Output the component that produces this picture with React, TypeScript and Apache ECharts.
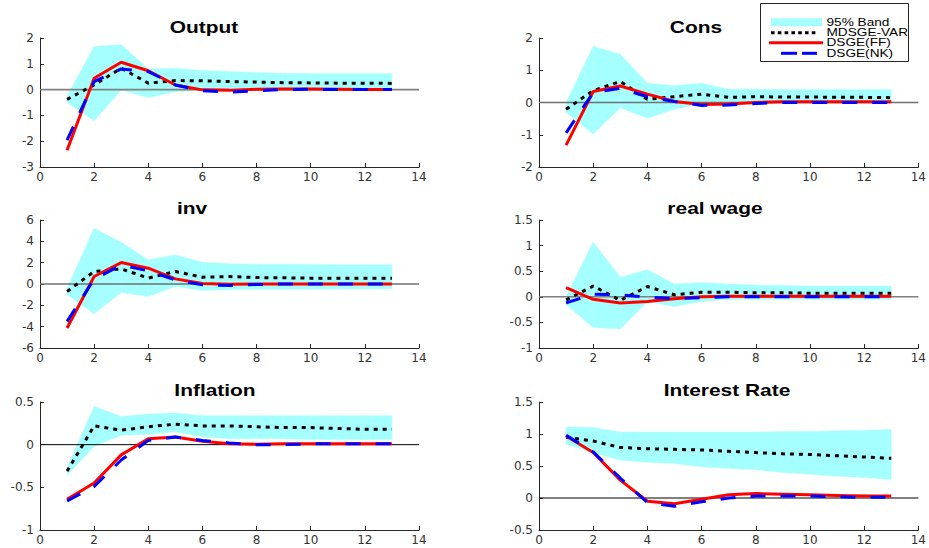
import React, { useEffect, useRef } from 'react';
import * as echarts from 'echarts';

// ---------- data ----------
const periods = [1, 2, 3, 4, 5, 6, 7, 8, 9, 10, 11, 12, 13];
const xTickMin = 0;
const xTickMax = 14;
const xTickStep = 2;

const titles = ['Output', 'Cons', 'inv', 'real wage', 'Inflation', 'Interest Rate'];
const legendNames = ['95% Band', 'MDSGE-VAR', 'DSGE(FF)', 'DSGE(NK)'];

const yMins = [-3, -2, -6, -1, -1, -0.5];
const yMaxs = [2, 2, 6, 1.5, 0.5, 1.5];
const ySteps = [1, 1, 2, 0.5, 0.5, 0.5];

const outputVar = [-0.38, 0.18, 0.83, 0.25, 0.35, 0.34, 0.31, 0.29, 0.27, 0.26, 0.25, 0.25, 0.24];
const outputFF = [-2.35, 0.44, 1.06, 0.73, 0.18, -0.01, -0.03, 0.01, 0.02, 0.02, 0.01, 0.0, 0.0];
const outputNK = [-1.96, 0.31, 0.8, 0.7, 0.18, -0.04, -0.1, -0.04, 0.0, 0.01, 0.0, 0.0, 0.0];
const outputLo = [-0.5, -1.21, -0.02, -0.31, -0.08, -0.02, 0.0, 0.0, -0.01, -0.01, -0.01, -0.01, -0.01];
const outputHi = [-0.25, 1.67, 1.75, 0.8, 0.83, 0.74, 0.7, 0.66, 0.63, 0.62, 0.62, 0.62, 0.62];

const consVar = [-0.21, 0.37, 0.65, 0.1, 0.18, 0.26, 0.16, 0.18, 0.17, 0.17, 0.16, 0.16, 0.15];
const consFF = [-1.32, 0.34, 0.51, 0.26, 0.03, -0.06, -0.05, 0.0, 0.02, 0.02, 0.02, 0.02, 0.02];
const consNK = [-0.94, 0.31, 0.44, 0.18, 0.03, -0.09, -0.08, -0.03, 0.0, 0.0, 0.0, 0.0, 0.0];
const consLo = [-0.3, -0.98, -0.16, -0.49, -0.21, -0.05, -0.03, -0.03, -0.03, -0.03, -0.03, -0.03, -0.03];
const consHi = [0.0, 1.74, 1.5, 0.6, 0.53, 0.6, 0.41, 0.41, 0.4, 0.4, 0.4, 0.4, 0.4];

const invVar = [-0.7, 1.17, 1.42, 0.55, 1.17, 0.64, 0.7, 0.6, 0.58, 0.55, 0.55, 0.55, 0.55];
const invFF = [-4.13, 0.7, 2.01, 1.48, 0.48, 0.05, -0.02, 0.0, 0.0, 0.0, 0.0, 0.0, 0.0];
const invNK = [-3.5, 0.45, 1.79, 1.23, 0.39, -0.08, -0.14, -0.05, 0.0, 0.0, 0.0, 0.0, 0.0];
const invLo = [-1.0, -2.79, -0.8, -1.17, -0.23, -0.6, -0.55, -0.5, -0.5, -0.5, -0.48, -0.46, -0.45];
const invHi = [-0.4, 5.22, 3.91, 2.26, 2.73, 2.04, 1.89, 1.85, 1.85, 1.83, 1.8, 1.8, 1.8];

const wageVar = [-0.06, 0.21, -0.07, 0.2, 0.04, 0.09, 0.09, 0.08, 0.08, 0.07, 0.07, 0.07, 0.07];
const wageFF = [0.18, -0.05, -0.12, -0.09, -0.04, 0.0, 0.01, 0.01, 0.01, 0.01, 0.01, 0.01, 0.01];
const wageNK = [-0.12, 0.05, 0.04, -0.01, -0.03, -0.02, 0.0, 0.0, 0.0, 0.0, 0.0, 0.0, 0.0];
const wageLo = [-0.15, -0.6, -0.63, -0.09, -0.19, -0.09, -0.05, -0.05, -0.05, -0.05, -0.05, -0.05, -0.05];
const wageHi = [0.0, 1.07, 0.38, 0.53, 0.25, 0.28, 0.25, 0.23, 0.22, 0.21, 0.21, 0.21, 0.21];

const inflVar = [-0.31, 0.22, 0.17, 0.21, 0.24, 0.22, 0.22, 0.21, 0.2, 0.2, 0.19, 0.18, 0.18];
const inflFF = [-0.64, -0.45, -0.12, 0.07, 0.09, 0.04, 0.01, 0.005, 0.01, 0.01, 0.01, 0.01, 0.01];
const inflNK = [-0.66, -0.49, -0.18, 0.05, 0.09, 0.05, 0.02, 0.0, 0.0, 0.01, 0.01, 0.01, 0.01];
const inflLo = [-0.36, -0.02, 0.11, 0.12, 0.15, 0.09, 0.07, 0.07, 0.07, 0.06, 0.06, 0.06, 0.06];
const inflHi = [-0.27, 0.45, 0.33, 0.36, 0.37, 0.34, 0.34, 0.34, 0.34, 0.34, 0.34, 0.34, 0.34];

const rateVar = [0.95, 0.89, 0.79, 0.77, 0.76, 0.75, 0.73, 0.71, 0.69, 0.68, 0.66, 0.64, 0.62];
const rateFF = [0.97, 0.71, 0.28, -0.05, -0.09, -0.02, 0.05, 0.07, 0.06, 0.05, 0.04, 0.03, 0.03];
const rateNK = [0.98, 0.72, 0.31, -0.07, -0.13, -0.06, 0.0, 0.03, 0.03, 0.03, 0.02, 0.01, 0.01];
const rateLo = [0.84, 0.71, 0.59, 0.56, 0.54, 0.49, 0.46, 0.44, 0.4, 0.37, 0.34, 0.32, 0.29];
const rateHi = [1.11, 1.1, 1.03, 1.03, 1.03, 1.03, 1.03, 1.03, 1.04, 1.04, 1.05, 1.06, 1.07];

const varSeries = [outputVar, consVar, invVar, wageVar, inflVar, rateVar];
const ffSeries = [outputFF, consFF, invFF, wageFF, inflFF, rateFF];
const nkSeries = [outputNK, consNK, invNK, wageNK, inflNK, rateNK];
const loSeries = [outputLo, consLo, invLo, wageLo, inflLo, rateLo];
const hiSeries = [outputHi, consHi, invHi, wageHi, inflHi, rateHi];

// ---------- layout / style ----------
const gridLayout = [
  { left: 40, top: 38, width: 379, height: 129 },
  { left: 539, top: 38, width: 381, height: 129 },
  { left: 40, top: 220, width: 379, height: 128 },
  { left: 539, top: 220, width: 381, height: 128 },
  { left: 40, top: 402, width: 379, height: 128 },
  { left: 539, top: 402, width: 381, height: 128 },
];
const titlePos = [
  [204, 27],
  [696, 27],
  [192, 208],
  [715, 208],
  [215, 390],
  [727, 390],
];
const zeroStyle = [
  { color: '#808080', width: 1.6 },
  { color: '#707070', width: 1.3 },
  { color: '#707070', width: 1.4 },
  { color: '#808080', width: 1.6 },
  { color: '#000000', width: 1 },
  { color: '#000000', width: 1 },
];

const BAND = '#A6FFFF';
const AXIS = '#262626';
const LABEL = '#333333';

function bandRenderItem(params: any, api: any) {
  const p0 = api.coord([api.value(0), api.value(1)]);
  const p1 = api.coord([api.value(3), api.value(4)]);
  const p2 = api.coord([api.value(3), api.value(5)]);
  const p3 = api.coord([api.value(0), api.value(2)]);
  return {
    type: 'polygon',
    shape: { points: [p0, p1, p2, p3] },
    style: { fill: BAND, stroke: BAND, lineWidth: 0.4 },
    silent: true,
  };
}

function buildOption(): any {
  const grid = gridLayout.map((g) => ({ ...g, containLabel: false }));
  const xAxis = gridLayout.map((_, i) => ({
    gridIndex: i,
    type: 'value',
    min: xTickMin,
    max: xTickMax,
    interval: xTickStep,
    axisLine: { show: true, onZero: false, lineStyle: { color: AXIS, width: 1 } },
    axisTick: { show: true, inside: true, length: 4, lineStyle: { color: AXIS } },
    axisLabel: { margin: 4, color: LABEL, fontSize: 12, fontFamily: 'DejaVu Sans' },
    splitLine: { show: false },
  }));
  const yAxis = gridLayout.map((_, i) => ({
    gridIndex: i,
    type: 'value',
    min: yMins[i],
    max: yMaxs[i],
    interval: ySteps[i],
    axisLine: { show: true, onZero: false, lineStyle: { color: AXIS, width: 1 } },
    axisTick: { show: true, inside: true, length: 4, lineStyle: { color: AXIS } },
    axisLabel: { margin: 6, color: LABEL, fontSize: 12, fontFamily: 'DejaVu Sans' },
    splitLine: { show: false },
  }));

  const series: any[] = [];
  gridLayout.forEach((_, i) => {
    const common = { xAxisIndex: i, yAxisIndex: i, silent: true, animation: false };
    const lo = loSeries[i];
    const hi = hiSeries[i];
    const bandData = periods.slice(0, -1).map((t, k) => [t, lo[k], hi[k], periods[k + 1], lo[k + 1], hi[k + 1]]);
    series.push({
      ...common,
      type: 'custom',
      name: legendNames[0],
      renderItem: bandRenderItem,
      encode: { x: [0, 3], y: [1, 2, 4, 5] },
      data: bandData,
      z: 1,
    });
    series.push({
      ...common,
      type: 'line',
      name: 'zero' + i,
      symbol: 'none',
      data: [
        [xTickMin, 0],
        [xTickMax, 0],
      ],
      lineStyle: { color: zeroStyle[i].color, width: zeroStyle[i].width },
      z: 2,
    });
    series.push({
      ...common,
      type: 'line',
      name: legendNames[1],
      symbol: 'none',
      data: periods.map((t, k) => [t, varSeries[i][k]]),
      lineStyle: { color: '#000000', width: 3, type: [4, 5], cap: 'butt' },
      z: 3,
    });
    series.push({
      ...common,
      type: 'line',
      name: legendNames[2],
      symbol: 'none',
      data: periods.map((t, k) => [t, ffSeries[i][k]]),
      lineStyle: { color: '#FF0000', width: 3 },
      z: 4,
    });
    series.push({
      ...common,
      type: 'line',
      name: legendNames[3],
      symbol: 'none',
      data: periods.map((t, k) => [t, nkSeries[i][k]]),
      lineStyle: { color: '#0000FF', width: 3, type: [15, 15], cap: 'butt' },
      z: 5,
    });
  });

  const graphic: any[] = [];
  titles.forEach((t, i) => {
    graphic.push({
      type: 'text',
      x: titlePos[i][0],
      y: titlePos[i][1],
      scaleX: 1.23,
      z: 100,
      style: {
        text: t,
        fontSize: 17,
        fontWeight: 'bold',
        fontFamily: 'Liberation Sans',
        fill: '#000',
        textAlign: 'center',
        textVerticalAlign: 'middle',
      },
    });
  });

  // legend box
  const rowY = [22.3, 32.7, 42.7, 53.3];
  graphic.push({
    type: 'rect',
    z: 100,
    shape: { x: 760.5, y: 3.5, width: 148, height: 58 },
    style: { fill: '#fff', stroke: AXIS, lineWidth: 1 },
  });
  graphic.push({
    type: 'rect',
    z: 101,
    shape: { x: 771, y: 18.3, width: 51, height: 8 },
    style: { fill: BAND },
  });
  graphic.push({
    type: 'line',
    z: 101,
    shape: { x1: 771, y1: rowY[1], x2: 818, y2: rowY[1] },
    style: { stroke: '#000', lineWidth: 3, lineDash: [3.6, 3.2] },
  });
  graphic.push({
    type: 'line',
    z: 101,
    shape: { x1: 769, y1: rowY[2], x2: 823, y2: rowY[2] },
    style: { stroke: '#FF0000', lineWidth: 3 },
  });
  graphic.push({
    type: 'line',
    z: 101,
    shape: { x1: 781, y1: rowY[3], x2: 797, y2: rowY[3] },
    style: { stroke: '#0000FF', lineWidth: 3 },
  });
  graphic.push({
    type: 'line',
    z: 101,
    shape: { x1: 802, y1: rowY[3], x2: 817, y2: rowY[3] },
    style: { stroke: '#0000FF', lineWidth: 3 },
  });
  legendNames.forEach((n, i) => {
    graphic.push({
      type: 'text',
      x: 826.5,
      y: rowY[i],
      scaleX: 1.3,
      z: 102,
      style: {
        text: n,
        fontSize: 10.5,
        fontFamily: 'Liberation Sans',
        fill: '#000',
        textAlign: 'left',
        textVerticalAlign: 'middle',
      },
    });
  });

  return {
    animation: false,
    backgroundColor: '#ffffff',
    grid,
    xAxis,
    yAxis,
    series,
    graphic,
  };
}

export default function App() {
  const ref = useRef<HTMLDivElement>(null);
  useEffect(() => {
    if (!ref.current) return;
    const chart = echarts.init(ref.current, null, { renderer: 'svg' });
    chart.setOption(buildOption());
    return () => chart.dispose();
  }, []);
  return (
    <div
      ref={ref}
      style={{ position: 'fixed', left: 0, top: 0, width: 929, height: 548, background: '#fff' }}
    />
  );
}
